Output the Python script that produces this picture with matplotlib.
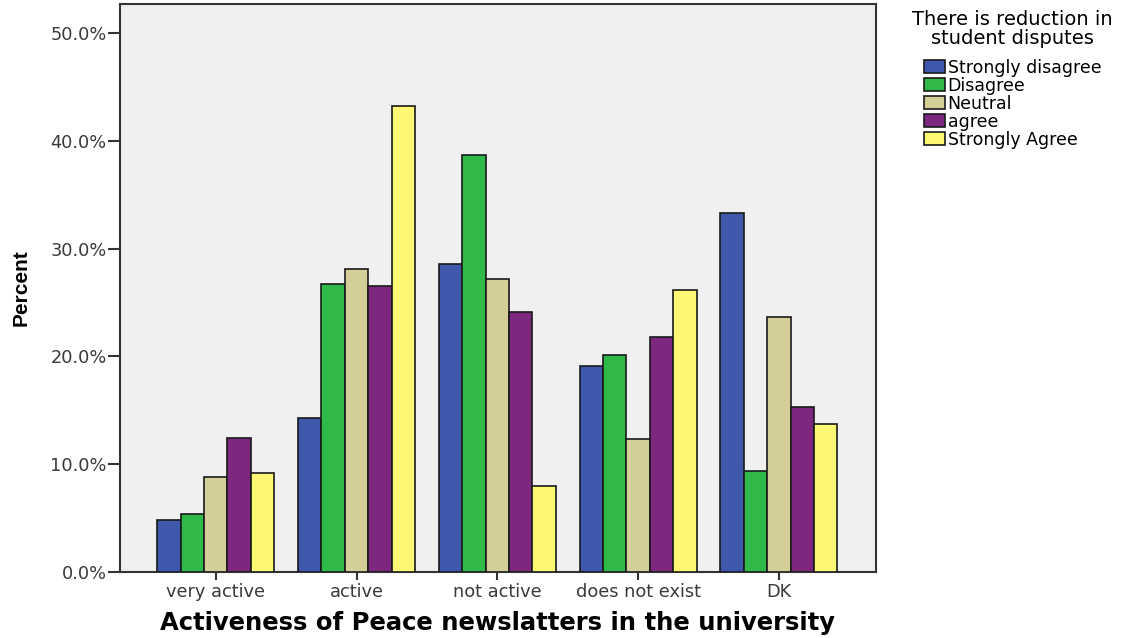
import matplotlib
matplotlib.use("Agg")
import matplotlib.pyplot as plt
import numpy as np
from matplotlib.ticker import FuncFormatter

categories = ["very active", "active", "not active", "does not exist", "DK"]
series_names = ["Strongly disagree", "Disagree", "Neutral", "agree", "Strongly Agree"]
strongly_disagree = [4.8, 14.3, 28.6, 19.1, 33.3]
disagree = [5.4, 26.7, 38.7, 20.1, 9.4]
neutral = [8.8, 28.1, 27.2, 12.3, 23.7]
agree = [12.4, 26.5, 24.1, 21.8, 15.3]
strongly_agree = [9.2, 43.2, 8.0, 26.2, 13.7]
values = [strongly_disagree, disagree, neutral, agree, strongly_agree]
colors = ["#3e58ac", "#2fb948", "#d4cf98", "#7d287e", "#fcf874"]
yticks = [0, 10, 20, 30, 40, 50]

plt.rcParams['font.family'] = ['DejaVu Sans']

fig = plt.figure(figsize=(11.4, 6.38), dpi=100)
ax = fig.add_axes([120/1140, 66/638, 756/1140, 568/638])
ax.set_facecolor("#f0f0f0")

x = np.arange(len(categories))
w = 0.166
for i, (name, vals, c) in enumerate(zip(series_names, values, colors)):
    ax.bar(x + (i - 2) * w, vals, width=w, color=c, edgecolor="#1a1a1a",
           linewidth=1.2, label=name, zorder=3)

ax.set_xlim(-0.68, 4.69)
ax.set_ylim(0, 52.7)
ax.set_yticks(yticks)
ax.yaxis.set_major_formatter(FuncFormatter(lambda v, p: f"{v:.1f}%"))
ax.set_xticks(x)
ax.set_xticklabels(categories)
ax.tick_params(axis='both', direction='out', width=1.5, color="#333333",
               labelsize=12.8, labelcolor="#3a3a3a")
ax.tick_params(axis='y', length=8.5, pad=1)
ax.tick_params(axis='x', length=6, pad=2)
for s in ax.spines.values():
    s.set_linewidth(1.5)
    s.set_color("#333333")

ax.set_ylabel("Percent", fontsize=15, fontweight='bold',
              family=['Liberation Sans Narrow', 'Liberation Sans'], labelpad=14)
ax.set_xlabel("Activeness of Peace newslatters in the university", fontsize=17.5,
              fontweight='bold', labelpad=7)

leg = fig.legend(loc='upper left', bbox_to_anchor=(902/1140, 1.0), frameon=False,
                 title="There is reduction in\nstudent disputes", fontsize=12.5,
                 title_fontsize=14, handlelength=1.2, handleheight=0.8,
                 labelspacing=0.0, handletextpad=0.15, borderaxespad=0.2)
leg._legend_box.align = "center"
leg._legend_box.sep = 7.5
leg.get_title().set_multialignment('center')
leg.get_title().set_linespacing(1.0)
for h in leg.legend_handles:
    h.set_linewidth(1.2)

fig.savefig("out.png", dpi=100)
